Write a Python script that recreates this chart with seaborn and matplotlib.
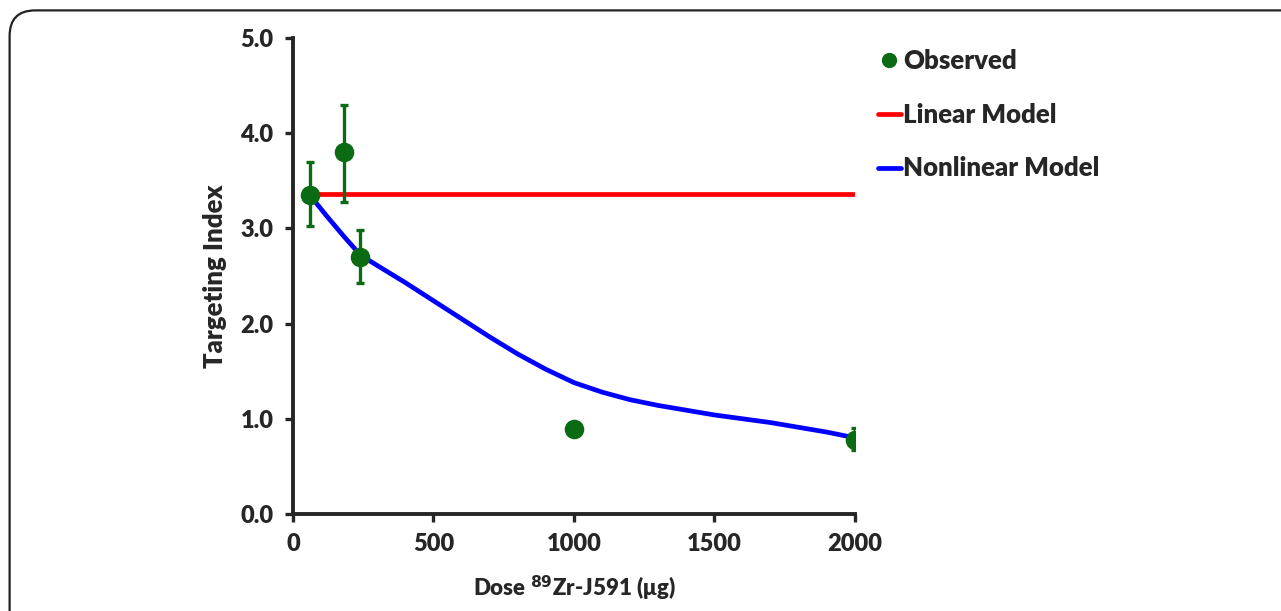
import numpy as np
import pandas as pd
import matplotlib.pyplot as plt
import seaborn as sns
from matplotlib.lines import Line2D
from matplotlib.patches import FancyBboxPatch

# observed targeting index vs dose
dose = [60, 180, 240, 1000, 2000]
ti = [3.35, 3.80, 2.70, 0.89, 0.78]
ti_lo = [3.02, 3.28, 2.43, 0.89, 0.67]
ti_hi = [3.70, 4.30, 2.98, 0.89, 0.90]

# model curves
lin_dose = [60, 2000]
lin_ti = [3.36, 3.36]
nl_dose = [60, 120, 180, 240, 300, 400, 500, 600, 700, 800, 900, 1000,
           1100, 1200, 1300, 1400, 1500, 1600, 1700, 1800, 1900, 2000]
nl_ti = [3.35, 3.13, 2.92, 2.72, 2.61, 2.43, 2.24, 2.05, 1.86, 1.68, 1.52, 1.38,
         1.28, 1.20, 1.14, 1.09, 1.04, 1.00, 0.96, 0.91, 0.86, 0.80]

obs = pd.DataFrame({"dose": dose, "ti": ti})
lin = pd.DataFrame({"dose": lin_dose, "ti": lin_ti})
nl = pd.DataFrame({"dose": nl_dose, "ti": nl_ti})

sns.set_theme(style="ticks")
plt.rcParams['font.family'] = ['Lato', 'DejaVu Sans']
plt.rcParams['font.weight'] = 'bold'

fig = plt.figure(figsize=(12.81, 6.11), dpi=100)
ax = fig.add_axes([0.2287, 0.1588, 0.4387, 0.779])

green = '#0b6b12'
sns.lineplot(data=lin, x="dose", y="ti", ax=ax, color='#ff0000', lw=3.4)
sns.lineplot(data=nl, x="dose", y="ti", ax=ax, color='#0000ff', lw=3.4)
yerr = [np.array(ti) - np.array(ti_lo), np.array(ti_hi) - np.array(ti)]
ax.errorbar(dose, ti, yerr=yerr, fmt='none', ecolor=green, elinewidth=2.4,
            capsize=3, capthick=2.4, zorder=3)
sns.scatterplot(data=obs, x="dose", y="ti", ax=ax, color=green, s=170,
                edgecolor=green, zorder=4)

ax.set_xlim(0, 2000)
ax.set_ylim(0, 5)
ax.set_xticks([0, 500, 1000, 1500, 2000])
ax.set_yticks(np.arange(0, 5.1, 1.0))
ax.set_yticklabels([f"{v:.1f}" for v in np.arange(0, 5.1, 1.0)])
ax.tick_params(labelsize=17, width=2.4, length=6, pad=8)
for lab in ax.get_xticklabels() + ax.get_yticklabels():
    lab.set_fontweight('heavy')
sns.despine(ax=ax)
for s in ['left', 'bottom']:
    ax.spines[s].set_linewidth(2.8)
ax.set_xlabel("Dose $^{\\mathbf{89}}$Zr-J591 (μg)", fontsize=16, fontweight='heavy', labelpad=13)
ax.set_ylabel("Targeting Index", fontsize=18.5, fontweight='heavy', labelpad=10)

handles = [
    Line2D([], [], marker='o', color='none', markerfacecolor=green, markeredgecolor=green, markersize=10),
    Line2D([], [], color='#ff0000', lw=3.4),
    Line2D([], [], color='#0000ff', lw=3.4),
]
leg = fig.legend(handles, ["Observed", "Linear Model", "Nonlinear Model"],
                 loc='upper left', bbox_to_anchor=(0.667, 0.957), frameon=False,
                 prop={'size': 18.5, 'weight': 'heavy'}, handlelength=0.9,
                 handletextpad=0.1, labelspacing=1.15)

frame = FancyBboxPatch((0.0075, -0.2), 1.1, 1.183, boxstyle="round,pad=0,rounding_size=0.02",
                       transform=fig.transFigure, fill=False, edgecolor='#222222', lw=1.6,
                       mutation_aspect=2.1)
fig.patches.append(frame)

fig.savefig("out.png", dpi=100)
